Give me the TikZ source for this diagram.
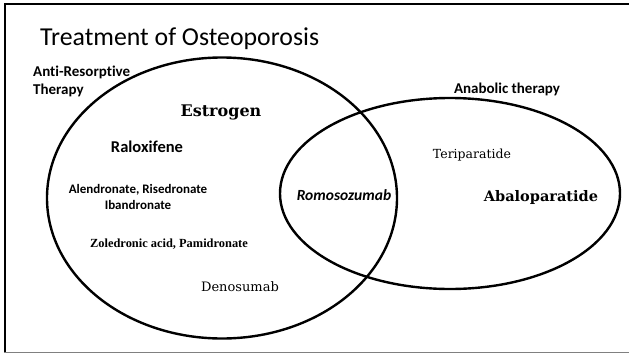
\documentclass[tikz,border=0pt]{standalone}
\usepackage{fontspec}
\setmainfont{Carlito}[Ligatures=NoCommon]
\newfontfamily\titlefont{Carlito}[Ligatures=NoCommon]
\newfontfamily\heavyserif{DejaVu Serif}
\newfontfamily\plainserif{DejaVu Serif}
\newfontfamily\timesfont{Liberation Serif}
\begin{document}
\begin{tikzpicture}[x=1pt,y=-1pt,
  venn/.style={draw=black,line width=2.4pt},
  lbl/.style={inner sep=0pt,font=\bfseries\fontsize{15}{18}\selectfont},
  heavy/.style={inner sep=0pt,font=\heavyserif\bfseries\fontsize{16}{18}\selectfont},
  thin/.style={inner sep=0pt,font=\plainserif\fontsize{12.5}{14}\selectfont},
  drug/.style={inner sep=0pt,font=\bfseries\fontsize{13}{16}\selectfont,align=center}]
\useasboundingbox (0,0) rectangle (629,354);
\fill[white] (0,0) rectangle (629,354);
% frame
\draw[line width=2pt] (5,352) -- (5,3.5) -- (629,3.5);
\draw[gray,line width=1.5pt] (4,352.5) -- (629,352.5);
% ellipses
\draw[venn] (222,198) ellipse [x radius=175, y radius=140.5];
\draw[venn] (450,193.5) ellipse [x radius=170, y radius=95.5];
% texts
\node[anchor=base west,inner sep=0pt,font=\titlefont\fontsize{25.8}{30}\selectfont] (title) at (40,45) {Treatment of Osteoporosis};
\node[lbl,anchor=west,align=left] (anti) at (33,81) {Anti-Resorptive\\Therapy};
\node[lbl,anchor=center] (anab) at (507,89) {Anabolic therapy};
\node[heavy,anchor=center] (estr) at (221,112) {Estrogen};
\node[inner sep=0pt,font=\bfseries\fontsize{16.5}{18}\selectfont] (ralo) at (147,147) {Raloxifene};
\node[drug] (alen) at (138,197) {Alendronate, Risedronate\\Ibandronate};
\node[inner sep=0pt,font=\timesfont\bfseries\fontsize{12.4}{14}\selectfont] (zole) at (169,244) {Zoledronic acid, Pamidronate};
\node[thin,font=\plainserif\fontsize{13}{15}\selectfont] (deno) at (240,287) {Denosumab};
\node[inner sep=0pt,font=\itshape\bfseries\fontsize{15.5}{17}\selectfont] (romo) at (344,195) {Romosozumab};
\node[thin] (teri) at (472,155) {Teriparatide};
\node[heavy,font=\heavyserif\bfseries\fontsize{14.5}{16}\selectfont] (abal) at (541,197) {Abaloparatide};
\end{tikzpicture}
\end{document}
